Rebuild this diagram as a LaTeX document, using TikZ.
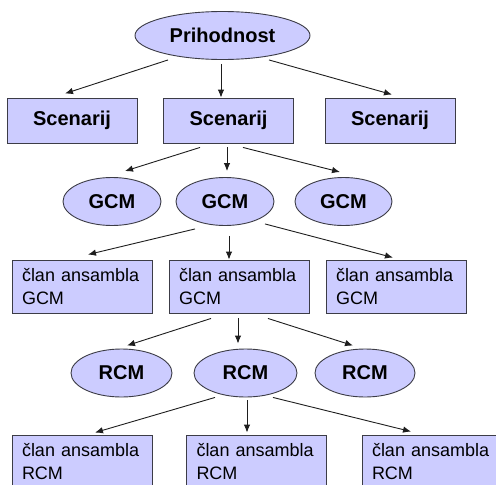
\documentclass[tikz,border=0pt]{standalone}
\usepackage{fontspec}
\setmainfont{Liberation Sans}
\usepackage{xcolor}
\usepackage{tikz}
\usetikzlibrary{arrows.meta,shapes.geometric}
\definecolor{trfill}{RGB}{204,204,255}
\definecolor{tredge}{RGB}{60,60,70}
\definecolor{trarr}{RGB}{30,30,30}
\tikzset{
  trbase/.style={
    draw=tredge, line width=0.9pt, fill=trfill, inner sep=0pt
  },
  oval/.style={
    trbase, ellipse, minimum height=48pt,
    font=\fontsize{20}{24}\selectfont\bfseries
  },
  scen/.style={
    trbase, minimum width=130pt, minimum height=45pt,
    font=\fontsize{20}{24}\selectfont\bfseries
  },
  member/.style={
    trbase, text width=120pt, inner xsep=10pt, minimum height=53pt,
    align=left, font=\fontsize{18}{23}\selectfont
  },
  arr/.style={-{Latex[length=8pt,width=6.5pt]}, draw=trarr, line width=0.9pt}
}
\begin{document}
\begin{tikzpicture}[x=1pt, y=-1pt]
  \clip (0,0) rectangle (496,485);
  \fill[white] (0,0) rectangle (496,485);
  % FUTURE
  \node[oval, minimum width=175pt] (prih) at (222.5,35.5) {Prihodnost};
  % SCENARIOS
  \node[scen] (sc1) at (72,120.5) {Scenarij};
  \node[scen] (sc2) at (228.5,120.5) {Scenarij};
  \node[scen] (sc3) at (390,120.5) {Scenarij};
  % GCM
  \node[oval, minimum width=98pt] (gcm1) at (112,201.5) {GCM};
  \node[oval, minimum width=98pt] (gcm2) at (225,201.5) {GCM};
  \node[oval, minimum width=97pt] (gcm3) at (343.5,201.5) {GCM};
  % GCM ENSEMBLE
  \node[member] (cg1) at (82,286.5) {član ansambla\\GCM};
  \node[member] (cg2) at (239,286.5) {član ansambla\\GCM};
  \node[member] (cg3) at (396,286.5) {član ansambla\\GCM};
  % RCM
  \node[oval, minimum width=101pt] (rcm1) at (121.5,373) {RCM};
  \node[oval, minimum width=103pt] (rcm2) at (245.5,373) {RCM};
  \node[oval, minimum width=100pt] (rcm3) at (365,373) {RCM};
  % RCM ENSEMBLE
  \node[member] (cr1) at (82,461.5) {član ansambla\\RCM};
  \node[member] (cr2) at (256.5,461.5) {član ansambla\\RCM};
  \node[member] (cr3) at (432,461.5) {član ansambla\\RCM};
  % arrows
  \draw[arr] ([xshift=-54.5pt]prih.south) -- ([xshift=-7pt,yshift=4pt]sc1.north);
  \draw[arr] ([xshift=-1.5pt,yshift=-4pt]prih.south) -- ([xshift=-7.5pt]sc2.north);
  \draw[arr] ([xshift=46.5pt]prih.south) -- ([xshift=2pt,yshift=3pt]sc3.north);
  \draw[arr] ([xshift=-28.5pt,yshift=-4pt]sc2.south) -- ([xshift=13pt,yshift=6pt]gcm1.north);
  \draw[arr] ([xshift=-1.5pt,yshift=-4pt]sc2.south) -- ([xshift=2pt,yshift=6pt]gcm2.north);
  \draw[arr] ([xshift=14.5pt,yshift=-4pt]sc2.south) -- ([xshift=-3.5pt,yshift=5pt]gcm3.north);
  \draw[arr] ([xshift=-30pt,yshift=-3pt]gcm2.south) -- ([xshift=6pt,yshift=5pt]cg1.north);
  \draw[arr] ([xshift=4pt,yshift=-10pt]gcm2.south) -- ([xshift=-10pt]cg2.north);
  \draw[arr] ([xshift=40pt,yshift=2pt]gcm2.south) -- ([xshift=-3pt,yshift=2pt]cg3.north);
  \draw[arr] ([xshift=-28pt,yshift=-5pt]cg2.south) -- ([xshift=5.5pt,yshift=3pt]rcm1.north);
  \draw[arr] ([xshift=-1pt,yshift=-5pt]cg2.south) -- ([xshift=-7.5pt,yshift=5pt]rcm2.north);
  \draw[arr] ([xshift=29pt,yshift=-5pt]cg2.south) -- ([xshift=-12pt,yshift=3pt]rcm3.north);
  \draw[arr] ([xshift=-30.5pt]rcm2.south) -- ([xshift=13pt,yshift=2pt]cr1.north);
  \draw[arr] ([xshift=1.5pt,yshift=-3pt]rcm2.south) -- ([xshift=-9.5pt,yshift=2pt]cr2.north);
  \draw[arr] ([xshift=27.5pt]rcm2.south) -- ([xshift=-21pt,yshift=3pt]cr3.north);
\end{tikzpicture}
\end{document}
